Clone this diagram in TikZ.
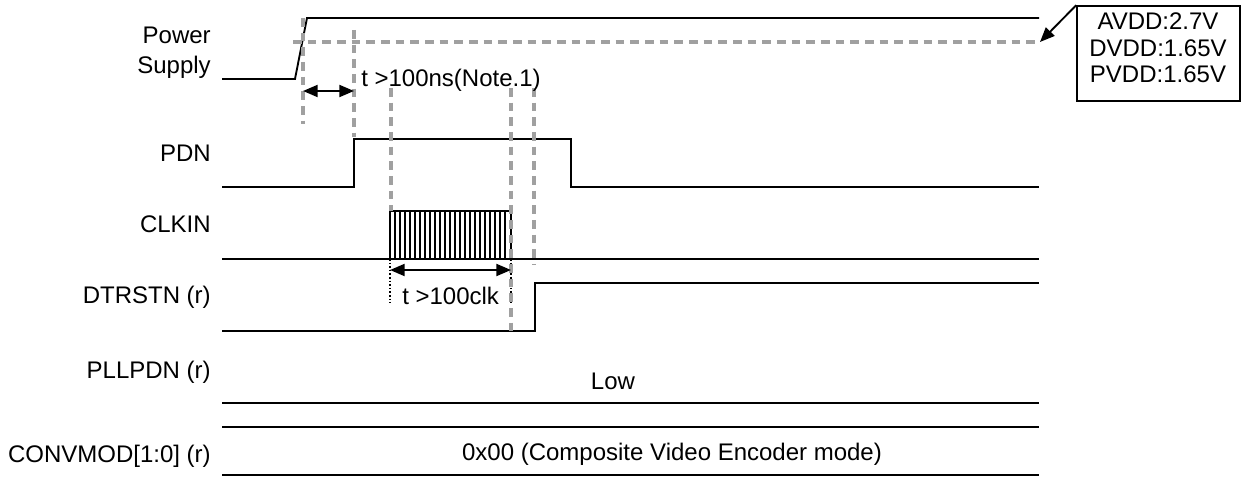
\documentclass[tikz,border=0pt]{standalone}
\usepackage{fontspec}
\setmainfont{Liberation Sans}
\usetikzlibrary{arrows.meta}
\definecolor{dgray}{RGB}{160,160,160}
\begin{document}
\begin{tikzpicture}[x=0.75pt,y=-0.75pt,
  sig/.style={line width=1.4pt,black},
  guide/.style={line width=2.5pt,dgray,dash pattern=on 6.5pt off 4.5pt},
  dotl/.style={line width=1.4pt,black,dash pattern=on 1.2pt off 1.5pt},
  dimarrow/.style={line width=1.4pt,{Triangle[length=11pt,width=9pt]}-{Triangle[length=11pt,width=9pt]}},
  lbl/.style={font=\fontsize{18}{20}\selectfont, inner sep=0pt, anchor=base east},
  txt/.style={font=\fontsize{18}{20}\selectfont, inner sep=0pt, anchor=base},
  txtw/.style={font=\fontsize{18}{20}\selectfont, inner sep=0pt, anchor=base west},
  ]
\useasboundingbox (0,0) rectangle (1242,477);

% signal labels
\node[lbl] (lpow) at (211,44) {Power};
\node[lbl] (lsup) at (211,74) {Supply};
\node[lbl] (lpdn) at (211,162) {PDN};
\node[lbl] (lclk) at (211,233) {CLKIN};
\node[lbl] (ldtr) at (211,304) {DTRSTN (r)};
\node[lbl] (lpll) at (211,378) {PLLPDN (r)};
\node[lbl] (lconv) at (211,462) {CONVMOD[1:0] (r)};

% Power supply
\draw[sig] (222,79) -- (295,79) -- (307,18) -- (1039,18);
% PDN
\draw[sig] (222,187) -- (354,187) -- (354,139) -- (571,139) -- (571,187) -- (1039,187);
% CLKIN
\draw[sig] (222,259) -- (1039,259);
\draw[line width=1.2pt] (390,211) rectangle (511,259);
\foreach \i in {1,...,23} \draw[line width=1.1pt] (390+5*\i,211) -- (390+5*\i,259);
% DTRSTN
\draw[sig] (222,331) -- (535,331) -- (535,283) -- (1039,283);
% PLLPDN / CONVMOD
\draw[sig] (222,403) -- (1039,403);
\draw[sig] (222,427) -- (1039,427);
\draw[sig] (222,475) -- (1039,475);

% dotted markers
\draw[dotl] (390,259) -- (390,303);
\draw[dotl] (511,259) -- (511,303);

% guides
\draw[guide] (293,42) -- (1039,42);
\draw[guide] (303,18) -- (303,124);
\draw[guide] (354,30) -- (354,137);
\draw[guide] (391,88) -- (391,211);
\draw[guide] (511,88) -- (511,335);
\draw[guide] (534,88) -- (534,265);

% dimension arrows
\coordinate (a1) at (303,91);
\coordinate (a2) at (354,91);
\draw[dimarrow] (a1) -- (a2);
\coordinate (b1) at (390,270);
\coordinate (b2) at (511,270);
\draw[dimarrow] (b1) -- (b2);

\node[txtw] (t1) at (361,87) {t >100ns(Note.1)};
\node[txtw] (t2) at (402,305) {t >100clk};
\node[txt] (tlow) at (613,389) {Low};
\node[txt] (tconv) at (672,460) {0x00 (Composite Video Encoder mode)};

% voltage box
\node[draw, line width=1.2pt, minimum width=122.25pt, minimum height=71.25pt, inner sep=0pt] (box) at (1158.5,53.5) {};
\node[txt] (v1) at (1158,30) {AVDD:2.7V};
\node[txt] (v2) at (1158,57) {DVDD:1.65V};
\node[txt] (v3) at (1158,83) {PVDD:1.65V};
\coordinate (vref) at (1040,42);
\draw[line width=1.4pt,-{Triangle[length=11pt,width=9pt]}] (box.north west) -- (vref);
\end{tikzpicture}
\end{document}
